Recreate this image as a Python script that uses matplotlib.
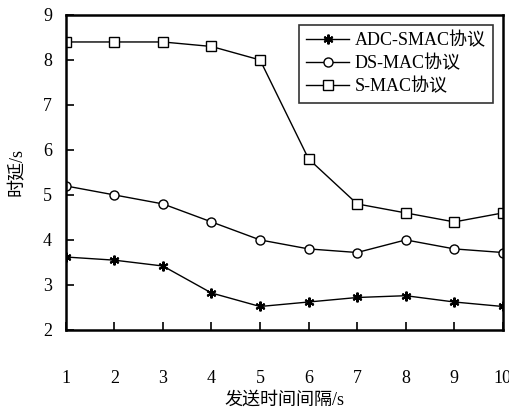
import matplotlib
matplotlib.use("Agg")
import matplotlib.pyplot as plt

plt.rcParams['font.family'] = ['Liberation Serif', 'Noto Sans CJK SC']

# data
x = [1, 2, 3, 4, 5, 6, 7, 8, 9, 10]
adc_smac = [3.62, 3.55, 3.42, 2.82, 2.52, 2.62, 2.72, 2.76, 2.62, 2.52]
ds_mac = [5.2, 5.0, 4.8, 4.4, 4.0, 3.8, 3.72, 4.0, 3.8, 3.72]
s_mac = [8.4, 8.4, 8.4, 8.3, 8.0, 5.8, 4.8, 4.6, 4.4, 4.6]
labels = ['ADC-SMAC协议', 'DS-MAC协议', 'S-MAC协议']

fig = plt.figure(figsize=(5.10, 4.16), dpi=100)
ax = fig.add_axes([0.129, 0.207, 0.857, 0.757])

ax.plot(x, adc_smac, color='black', lw=1, marker=(6, 2, 0), ms=7, mew=1.5,
        label=labels[0])
ax.plot(x, ds_mac, color='black', lw=1, marker='o', ms=6.5, mfc='white',
        mew=1, label=labels[1])
ax.plot(x, s_mac, color='black', lw=1, marker='s', ms=6.5, mfc='white',
        mew=1, label=labels[2])

ax.set_xlim(1, 10)
ax.set_ylim(2, 9)
ax.set_xticks(x)
ax.set_yticks(range(2, 10))
ax.tick_params(axis='x', direction='in', length=6, width=1.2, pad=29,
               labelsize=13, top=False)
ax.tick_params(axis='y', direction='in', length=6, width=1.2, pad=10,
               labelsize=13, right=False)
for sp in ax.spines.values():
    sp.set_linewidth(1.8)

ax.set_xlabel('发送时间间隔/s', fontsize=13, labelpad=3)
ax.set_ylabel('时延/s', fontsize=13, labelpad=12)

leg = ax.legend(loc='upper right', fontsize=13, frameon=True, fancybox=False,
                handlelength=2.4, borderpad=0.4, labelspacing=0.3,
                handletextpad=0.3, borderaxespad=0.3,
                bbox_to_anchor=(0.99, 0.985))
leg.get_frame().set_edgecolor('black')
leg.get_frame().set_linewidth(1.2)

fig.savefig('out.png', dpi=100)
